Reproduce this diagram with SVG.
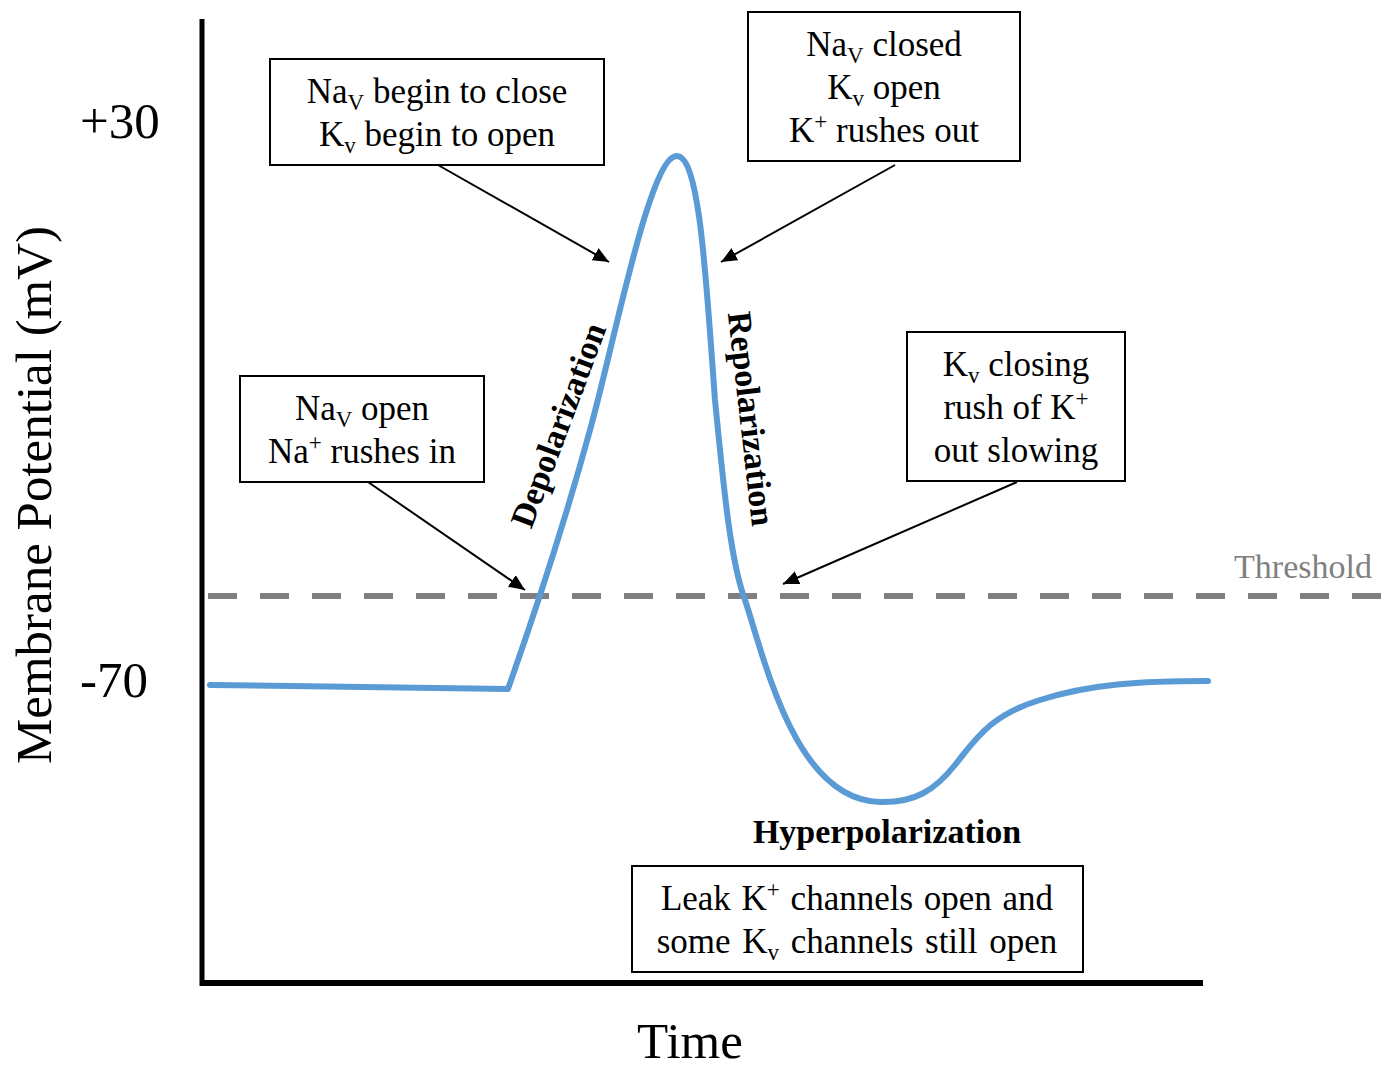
<svg xmlns="http://www.w3.org/2000/svg" width="1388" height="1070" viewBox="0 0 1388 1070">
<defs>
<style>
.t{font-family:"Liberation Serif","Times New Roman",serif;font-size:35px;fill:#000;text-anchor:middle}
.big{font-family:"Liberation Serif","Times New Roman",serif;font-size:51px;fill:#000}
.b{font-family:"Liberation Serif","Times New Roman",serif;font-size:34px;font-weight:bold;fill:#000;text-anchor:middle}
.box{fill:#fff;stroke:#000;stroke-width:2}
.arr{stroke:#000;stroke-width:2;fill:none;marker-end:url(#ah)}
.sub{font-size:23px}
</style>
<marker id="ah" markerUnits="userSpaceOnUse" markerWidth="18" markerHeight="14" refX="16" refY="7" orient="auto">
<path d="M0,0 L16,7 L0,14 Z" fill="#000"/>
</marker>
</defs>
<rect width="1388" height="1070" fill="#fff"/>

<g id="axes">
<line x1="202" y1="19" x2="202" y2="986" stroke="#000" stroke-width="5"/>
<line x1="200" y1="983" x2="1203" y2="983" stroke="#000" stroke-width="6"/>
<text class="big" x="80" y="138">+30</text>
<text class="big" x="80" y="697">-70</text>
<text class="big" text-anchor="middle" transform="translate(51,495) rotate(-90)">Membrane Potential (mV)</text>
<text class="big" x="690" y="1058" text-anchor="middle">Time</text>
</g>

<g id="threshold">
<line x1="208" y1="596" x2="1384" y2="596" stroke="#808080" stroke-width="6" stroke-dasharray="29 23"/>
<text x="1303" y="578" text-anchor="middle" font-family="'Liberation Serif','Times New Roman',serif" font-size="34" fill="#808080">Threshold</text>
</g>

<g id="curve">
<path d="M210,685 L508,689 C520,655 560,540 590,430 C615,340 650,155 677,156 C700,157 706,280 715,400 C723,480 730,560 745,600 C765,660 795,800 880,802 C915,803 935,790 955,765 C975,740 990,715 1040,700 C1090,684 1140,681 1208,681" fill="none" stroke="#5B9BD5" stroke-width="6" stroke-linecap="round" stroke-linejoin="round"/>
</g>

<g id="connectors">
<line class="arr" x1="438" y1="165" x2="609" y2="262"/>
<line class="arr" x1="895" y1="165" x2="721" y2="262"/>
<line class="arr" x1="368" y1="482" x2="525" y2="590"/>
<line class="arr" x1="1017" y1="482" x2="783" y2="584"/>
</g>

<g id="box-begin-close">
<rect class="box" x="270" y="59" width="334" height="106"/>
<text class="t" x="437" y="103">Na<tspan class="sub" dy="7">V</tspan><tspan dy="-7"> begin to close</tspan></text>
<text class="t" x="437" y="146">K<tspan class="sub" dy="7">v</tspan><tspan dy="-7"> begin to open</tspan></text>
</g>

<g id="box-closed">
<rect class="box" x="748" y="12" width="272" height="149"/>
<text class="t" x="884" y="56">Na<tspan class="sub" dy="7">V</tspan><tspan dy="-7"> closed</tspan></text>
<text class="t" x="884" y="99">K<tspan class="sub" dy="7">v</tspan><tspan dy="-7"> open</tspan></text>
<text class="t" x="884" y="142">K<tspan class="sub" dy="-13">+</tspan><tspan dy="13"> rushes out</tspan></text>
</g>

<g id="box-open">
<rect class="box" x="240" y="376" width="244" height="106"/>
<text class="t" x="362" y="420">Na<tspan class="sub" dy="7">V</tspan><tspan dy="-7"> open</tspan></text>
<text class="t" x="362" y="463">Na<tspan class="sub" dy="-13">+</tspan><tspan dy="13"> rushes in</tspan></text>
</g>

<g id="box-closing">
<rect class="box" x="907" y="332" width="218" height="149"/>
<text class="t" x="1016" y="376">K<tspan class="sub" dy="7">v</tspan><tspan dy="-7"> closing</tspan></text>
<text class="t" x="1016" y="419">rush of K<tspan class="sub" dy="-13">+</tspan></text>
<text class="t" x="1016" y="462">out slowing</text>
</g>

<g id="box-leak">
<rect class="box" x="632" y="866" width="451" height="106"/>
<text class="t" x="857" y="910" word-spacing="2">Leak K<tspan class="sub" dy="-13">+</tspan><tspan dy="13"> channels open and</tspan></text>
<text class="t" x="857" y="953" word-spacing="3">some K<tspan class="sub" dy="7">v</tspan><tspan dy="-7"> channels still open</tspan></text>
</g>

<g id="labels">
<text class="b" transform="translate(569,429) rotate(-69.5)">Depolarization</text>
<text class="b" transform="translate(740,420) rotate(83.5)">Repolarization</text>
<text class="b" x="887" y="843">Hyperpolarization</text>
</g>
</svg>
